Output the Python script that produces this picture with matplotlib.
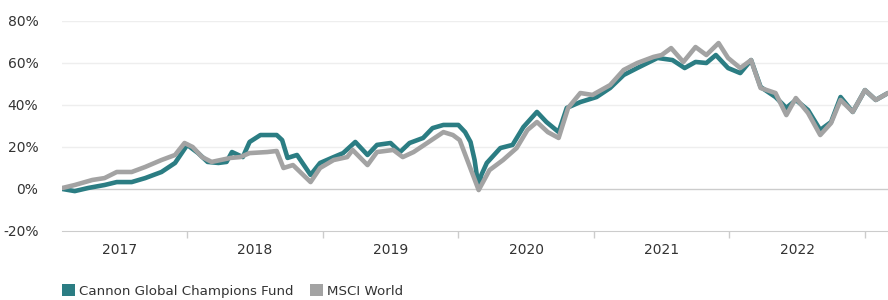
import numpy as np
import matplotlib.pyplot as plt
from matplotlib.patches import Patch

#-- data (cumulative performance, %) --
fund_t = [2017.08, 2017.17, 2017.27, 2017.39, 2017.48, 2017.59, 2017.69, 2017.81, 2017.91,
          2018.00, 2018.08, 2018.15, 2018.23, 2018.29, 2018.33, 2018.41, 2018.46, 2018.54,
          2018.66, 2018.70, 2018.74, 2018.81, 2018.91, 2018.98, 2019.08, 2019.15, 2019.24,
          2019.33, 2019.40, 2019.50, 2019.57, 2019.64, 2019.74, 2019.81, 2019.89, 2020.00,
          2020.05, 2020.09, 2020.12, 2020.15, 2020.17, 2020.21, 2020.31, 2020.40, 2020.48,
          2020.58, 2020.65, 2020.74, 2020.80, 2020.90, 2021.02, 2021.12, 2021.22, 2021.32,
          2021.47, 2021.58, 2021.67, 2021.75, 2021.83, 2021.90, 2021.99, 2022.08, 2022.16,
          2022.23, 2022.34, 2022.42, 2022.49, 2022.58, 2022.67, 2022.75, 2022.82, 2022.91,
          2023.00, 2023.08, 2023.17]
fund_v = [0.0, -1.0, 0.5, 1.9, 3.3, 3.3, 5.2, 8.1, 12.4,
          21.0, 17.1, 12.9, 12.4, 12.9, 17.6, 15.2, 22.4, 25.7,
          25.7, 23.3, 14.8, 16.2, 6.7, 12.4, 15.2, 17.1, 22.4,
          16.2, 21.0, 21.9, 17.6, 21.9, 24.3, 29.0, 30.5, 30.5,
          27.1, 22.4, 13.8, 0.5, 6.7, 12.4, 19.5, 21.0, 29.5,
          36.7, 31.9, 27.1, 38.6, 41.4, 43.8, 48.1, 54.3, 57.6,
          62.4, 61.4, 57.6, 60.5, 60.0, 63.8, 57.6, 55.2, 61.4,
          48.6, 43.8, 38.6, 42.4, 37.6, 28.1, 31.9, 43.8, 36.7,
          47.1, 42.4, 45.7]

msci_t = [2017.08, 2017.17, 2017.30, 2017.39, 2017.48, 2017.59, 2017.69, 2017.81, 2017.91,
          2017.98, 2018.04, 2018.11, 2018.18, 2018.32, 2018.39, 2018.46, 2018.59, 2018.66,
          2018.71, 2018.78, 2018.91, 2018.98, 2019.08, 2019.18, 2019.22, 2019.33, 2019.40,
          2019.52, 2019.59, 2019.67, 2019.77, 2019.89, 2019.96, 2020.01, 2020.06, 2020.15,
          2020.23, 2020.33, 2020.43, 2020.51, 2020.58, 2020.66, 2020.74, 2020.81, 2020.90,
          2020.99, 2021.12, 2021.22, 2021.32, 2021.44, 2021.50, 2021.57, 2021.66, 2021.75,
          2021.83, 2021.92, 2021.99, 2022.08, 2022.16, 2022.23, 2022.34, 2022.42, 2022.49,
          2022.58, 2022.67, 2022.75, 2022.82, 2022.91, 2023.00, 2023.08, 2023.17]
msci_v = [0.5, 1.9, 4.3, 5.2, 8.1, 8.1, 10.5, 13.8, 16.2,
          21.9, 20.0, 15.2, 12.9, 14.8, 15.2, 17.1, 17.6, 18.1,
          10.0, 11.4, 3.3, 10.0, 13.8, 15.2, 18.6, 11.4, 17.6,
          18.6, 15.2, 17.6, 21.9, 27.1, 25.7, 23.3, 14.8, -0.5,
          9.0, 13.8, 19.5, 28.1, 31.9, 27.1, 24.3, 38.6, 45.7,
          44.8, 49.5, 56.7, 60.0, 62.9, 63.8, 67.1, 60.5, 67.6,
          63.8, 69.5, 62.4, 57.6, 61.4, 48.1, 45.7, 35.2, 43.3,
          36.2, 25.7, 31.4, 42.4, 36.7, 47.1, 42.4, 45.7]

years = ['2017', '2018', '2019', '2020', '2021', '2022']
yticks = [-20, 0, 20, 40, 60, 80]

c_fund = '#2b7d83'
c_msci = '#a3a3a3'

#-- plot --
fig = plt.figure(figsize=(8.88, 3.0), dpi=100)
ax = fig.add_axes([62/888, 69/300, 1 - 62/888, 210/300])

ax.plot(fund_t, fund_v, color=c_fund, lw=3.3, solid_joinstyle='round', solid_capstyle='round', zorder=3)
ax.plot(msci_t, msci_v, color=c_msci, lw=3.3, solid_joinstyle='round', solid_capstyle='round', zorder=4)

ax.set_xlim(2017.076, 2023.17)
ax.set_ylim(-20, 80)

# grid
for yv in yticks[2:]:
    ax.axhline(yv, color='#eeeeee', lw=1.0, zorder=1)
ax.axhline(0, color='#cccccc', lw=1.0, zorder=1)

ax.set_yticks(yticks)
ax.set_yticklabels([f'{v}%' for v in yticks])
ax.tick_params(axis='y', length=0, pad=17, labelsize=10, labelcolor='#333333')

# year separators + centered labels
ax.set_xticks([2018, 2019, 2020, 2021, 2022, 2023])
ax.set_xticklabels([])
ax.tick_params(axis='x', which='major', length=5, color='#cccccc', width=1)
ax.set_xticks([int(y) + 0.5 for y in years], minor=True)
ax.set_xticklabels(years, minor=True)
ax.tick_params(axis='x', which='minor', length=0, pad=9, labelsize=10, labelcolor='#333333')

for s in ['top', 'right', 'left']:
    ax.spines[s].set_visible(False)
ax.spines['bottom'].set_color('#cccccc')

handles = [Patch(facecolor=c_fund, edgecolor='none', label='Cannon Global Champions Fund'),
           Patch(facecolor=c_msci, edgecolor='none', label='MSCI World')]
fig.legend(handles=handles, loc='lower left', bbox_to_anchor=(50/888, -0.033), ncol=2,
           frameon=False, handlelength=1.0, handleheight=1.0, handletextpad=0.3,
           columnspacing=1.2, fontsize=9.6, labelcolor='#333333')

fig.savefig('out.png', dpi=100)
